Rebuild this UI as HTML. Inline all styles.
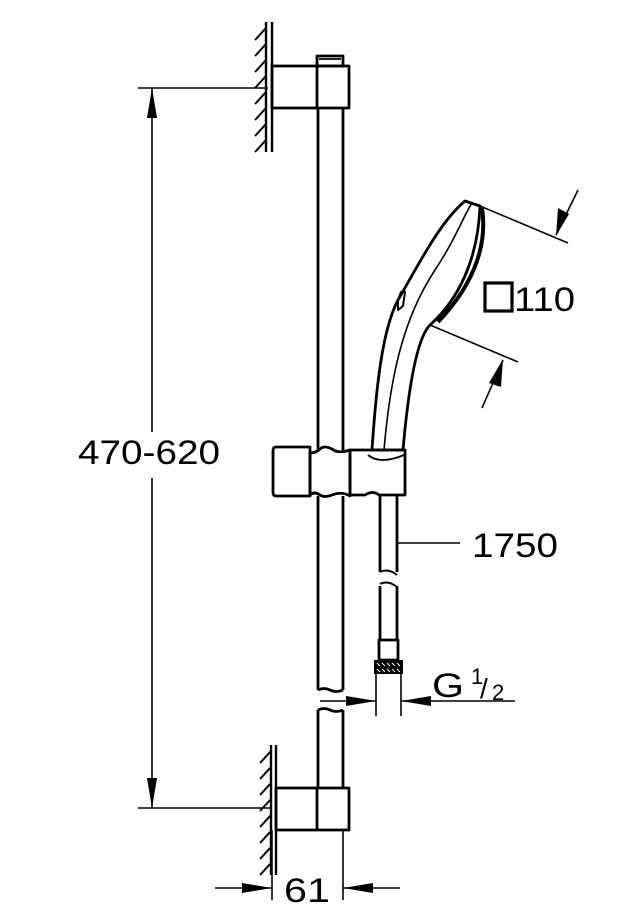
<!DOCTYPE html>
<html><head><style>body{margin:0;background:#fff}svg{display:block}text{font-family:"Liberation Sans",sans-serif;fill:#000}</style></head><body>
<svg width="632" height="921" viewBox="0 0 632 921" xmlns="http://www.w3.org/2000/svg">
<g stroke="#000" fill="none" stroke-width="2.8" stroke-linejoin="round">
<!-- top wall -->
<line x1="266" y1="22" x2="266" y2="152" stroke-width="2.4"/>
<line x1="272" y1="22" x2="272" y2="152" stroke-width="2.4"/>
<g stroke-width="2">
<path d="M255 40l11-12M255 56l11-12M255 72l11-12M255 88l11-12M255 104l11-12M255 120l11-12M255 136l11-12M255 152l11-12"/>
</g>
<rect x="272" y="66" width="77" height="42"/>
<line x1="317" y1="66" x2="317" y2="108"/>
<rect x="317" y="56" width="26" height="10"/>
<line x1="319" y1="59" x2="341" y2="59" stroke-width="1.8"/>
<!-- rail -->
<line x1="318" y1="108" x2="318" y2="450"/>
<line x1="343" y1="108" x2="343" y2="450"/>
<line x1="318" y1="496" x2="318" y2="690"/>
<line x1="343" y1="496" x2="343" y2="690"/>
<path d="M318 690q6 -3 12 0t13 0"/>
<path d="M318 710q6 -3 12 0t13 0"/>
<line x1="318" y1="710" x2="318" y2="788"/>
<line x1="343" y1="710" x2="343" y2="788"/>
<!-- bottom wall -->
<line x1="271" y1="745" x2="271" y2="875" stroke-width="2.4"/>
<line x1="276" y1="745" x2="276" y2="875" stroke-width="2.4"/>
<g stroke-width="2">
<path d="M260 763l11-12M260 779l11-12M260 795l11-12M260 811l11-12M260 827l11-12M260 843l11-12M260 859l11-12M260 875l11-12"/>
</g>
<rect x="276" y="788" width="73" height="42"/>
<line x1="317" y1="788" x2="317" y2="830"/>
<!-- slider -->
<path d="M276 447h34v49h-34q-3 0 -3 -4v-41q0 -4 3 -4z"/>
<path d="M310 453q6 0 10 -4t12 0q6 5 18 1v46q-8 -5 -18 -1q-8 3 -12 0q-6 -4 -10 0z"/>
<path d="M350 450h55v45h-26q-6 -5 -14 0h-15z"/>
<path d="M368 455q12 10 36 0" stroke-width="1.8"/>
<!-- hose -->
<line x1="380" y1="495" x2="380" y2="572"/>
<line x1="397" y1="495" x2="397" y2="572"/>
<path d="M380 572q8 -4 17 3M380 584q8 -4 17 3" stroke-width="2"/>
<line x1="380" y1="586" x2="380" y2="640"/>
<line x1="397" y1="586" x2="397" y2="640"/>
<rect x="379" y="640" width="19" height="20"/>
<!-- shower head -->
<path d="M372 450 C376 390 382 330 398 300 C420 262 440 222 465 201 L480 206 C478 260 458 300 430 325 C420 335 410 370 403 450 Z"/>
<path d="M398 300 L401 292 L405 292 L403 306 L398 310 Z" stroke-width="2"/>
<path d="M384 450 C390 380 402 320 435 270 C455 240 464 215 472 203" stroke-width="1.6"/>
<path d="M482 208 C487 240 478 280 438 322" stroke-width="4"/>
</g>
<rect x="374" y="660" width="29" height="14" fill="#000"/>
<g stroke="#fff" stroke-width="1"><path d="M377 663l3 3M382 663l3 3M387 663l3 3M392 663l3 3M397 663l3 3M377 669l3 3M382 669l3 3M387 669l3 3M392 669l3 3M397 669l3 3"/></g>
<g stroke="#000" stroke-width="1.6" fill="none">
<line x1="376" y1="674" x2="376" y2="716"/>
<line x1="401" y1="674" x2="401" y2="716"/>
<line x1="320" y1="701" x2="376" y2="701"/>
<line x1="401" y1="701" x2="515" y2="701"/>
<line x1="397" y1="543" x2="460" y2="543"/>
<line x1="138" y1="88" x2="268" y2="88"/>
<line x1="138" y1="808" x2="272" y2="808"/>
<line x1="152" y1="88" x2="152" y2="432"/>
<line x1="152" y1="478" x2="152" y2="808"/>
<line x1="272" y1="830" x2="272" y2="900"/>
<line x1="343" y1="830" x2="343" y2="900"/>
<line x1="215" y1="888" x2="272" y2="888"/>
<line x1="343" y1="888" x2="400" y2="888"/>
<line x1="480" y1="206" x2="568" y2="243"/>
<line x1="430" y1="325" x2="518" y2="362"/>
<line x1="578" y1="190" x2="556" y2="235"/>
<line x1="482" y1="408" x2="503" y2="360"/>
</g>
<g fill="#000">
<polygon points="152,88 147,118 157,118"/>
<polygon points="152,808 147,778 157,778"/>
<polygon points="272,888 242,883 242,893"/>
<polygon points="343,888 373,883 373,893"/>
<polygon points="376,701 346,696 346,706"/>
<polygon points="401,701 431,696 431,706"/>
<polygon points="556,236 558,208 569,214"/>
<polygon points="503,359 489,383 501,387"/>
</g>
<rect x="485" y="283" width="27" height="28" fill="none" stroke="#000" stroke-width="3.2"/>
<text x="514" y="311" font-size="34" textLength="61" lengthAdjust="spacingAndGlyphs">110</text>
<text x="78" y="464" font-size="34" textLength="142" lengthAdjust="spacingAndGlyphs">470-620</text>
<text x="472" y="557" font-size="34" textLength="86" lengthAdjust="spacingAndGlyphs">1750</text>
<text x="432" y="697" font-size="34" textLength="32" lengthAdjust="spacingAndGlyphs">G</text>
<text x="471" y="684" font-size="22">1</text>
<text x="480" y="698" font-size="28">/</text>
<text x="492" y="700" font-size="22">2</text>
<text x="284" y="902" font-size="34" textLength="46" lengthAdjust="spacingAndGlyphs">61</text>
</svg>
</body></html>
